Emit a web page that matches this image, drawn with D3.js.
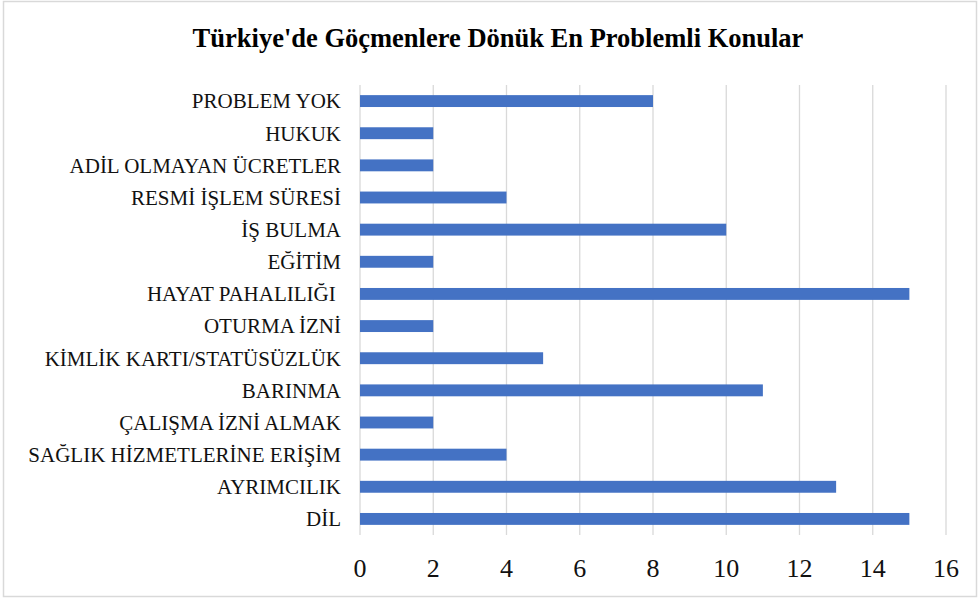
<!DOCTYPE html>
<html><head><meta charset="utf-8">
<script src="https://cdn.jsdelivr.net/npm/d3@7"></script>
<style>body{margin:0;background:#fff}svg{display:block}text{font-family:"Liberation Serif","Times New Roman",serif}</style>
</head><body><svg id="c" width="980" height="599"></svg>
<script>
const title = "Türkiye'de Göçmenlere Dönük En Problemli Konular";
const categories = ["PROBLEM YOK","HUKUK","ADİL OLMAYAN ÜCRETLER","RESMİ İŞLEM SÜRESİ","İŞ BULMA","EĞİTİM","HAYAT PAHALILIĞI ","OTURMA İZNİ","KİMLİK KARTI/STATÜSÜZLÜK","BARINMA","ÇALIŞMA İZNİ ALMAK","SAĞLIK HİZMETLERİNE ERİŞİM","AYRIMCILIK","DİL"];
const values = [8,2,2,4,10,2,15,2,5,11,2,4,13,15];
const xTicks = [0,2,4,6,8,10,12,14,16];

const svg = d3.select("#c");
svg.append("rect").attr("x",3.5).attr("y",1.5).attr("width",973).attr("height",595)
  .attr("fill","#fff").attr("stroke","#d9d9d9").attr("stroke-width",1.5);
svg.append("text").attr("x",498).attr("y",47).attr("text-anchor","middle")
  .attr("font-size",26.5).attr("font-weight","bold").attr("fill","#000").text(title);

const x = d3.scaleLinear().domain([0,16]).range([360,946]);
const y = d3.scaleBand().domain(categories).range([85,535]).paddingInner(0.63).paddingOuter(0.315);

svg.append("g").selectAll("line").data(xTicks).join("line")
  .attr("x1",d=>x(d)).attr("x2",d=>x(d)).attr("y1",85).attr("y2",535)
  .attr("stroke","#d9d9d9").attr("stroke-width",1.3);

svg.append("g").selectAll("rect").data(categories).join("rect")
  .attr("x",x(0)).attr("y",d=>y(d)).attr("height",y.bandwidth())
  .attr("width",(d,i)=>x(values[i])-x(0)).attr("fill","#4472C4");

svg.append("g").selectAll("text").data(categories).join("text")
  .attr("x",341).attr("y",d=>y(d)+y.bandwidth()/2).attr("dy","0.35em")
  .attr("text-anchor","end").attr("font-size",21).attr("fill","#111")
  .style("white-space","pre").text(d=>d);

svg.append("g").selectAll("text").data(xTicks).join("text")
  .attr("x",d=>x(d)).attr("y",577).attr("text-anchor","middle")
  .attr("font-size",26).attr("fill","#111").text(d=>d);
</script></body></html>
